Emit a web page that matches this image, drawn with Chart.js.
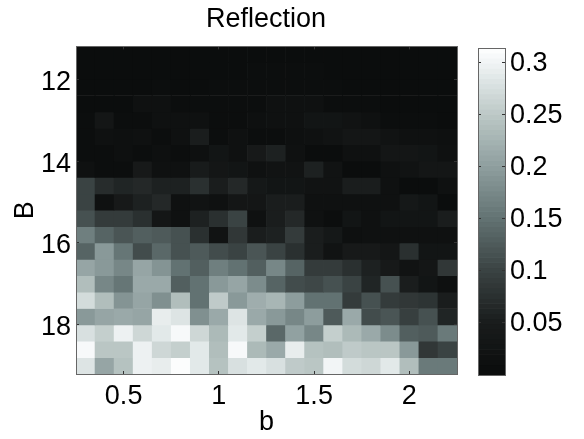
<!DOCTYPE html>
<html lang="en">

<head>
    <meta charset="UTF-8">
    <title>Reflection</title>
    <script src="https://cdn.jsdelivr.net/npm/chart.js"></script>
    <style>
        body { margin: 0; background: #fff; }
        canvas { position: absolute; top: 0; }
        #mapa { left: 0; }
        #barra { left: 460px; }
    </style>
</head>

<body>
    <canvas id="mapa" width="532" height="439"></canvas>
    <canvas id="barra" width="124" height="439"></canvas>
</body>

</html>

<script>

    const bValores = [0.3, 0.4, 0.5, 0.6, 0.7, 0.8, 0.9, 1.0, 1.1, 1.2, 1.3, 1.4, 1.5, 1.6, 1.7, 1.8, 1.9, 2.0, 2.1, 2.2];
    const BValores = [11.4, 11.8, 12.2, 12.6, 13.0, 13.4, 13.8, 14.2, 14.6, 15.0, 15.4, 15.8, 16.2, 16.6, 17.0, 17.4, 17.8, 18.2, 18.6, 19.0];

    const ticksB = [12, 14, 16, 18];
    const ticksb = [0.5, 1, 1.5, 2];
    const ticksCor = [0.05, 0.1, 0.15, 0.2, 0.25, 0.3];

    // uma linha por valor de B, de cima pra baixo
    const reflexao = [
        [.002, .002, .003, .002, .002, .002, .003, .003, .002, .003, .003, .003, .003, .002, .002, .002, .002, .002, .002, .002],
        [.001, .001, .003, .001, .001, .001, .001, .001, .003, .006, .006, .006, .006, .003, .003, .003, .001, .001, .001, .001],
        [.001, .001, .001, .003, .006, .003, .003, .006, .006, .009, .006, .006, .006, .006, .003, .003, .003, .001, .001, .001],
        [.003, .001, .001, .016, .016, .006, .006, .006, .006, .009, .016, .016, .016, .009, .009, .009, .003, .003, .003, .003],
        [.006, .034, .006, .009, .016, .019, .016, .006, .006, .013, .019, .019, .028, .028, .022, .019, .009, .006, .006, .003],
        [.009, .016, .013, .019, .006, .016, .050, .006, .016, .009, .006, .013, .016, .022, .031, .034, .022, .019, .016, .013],
        [.006, .009, .013, .006, .013, .006, .013, .025, .016, .044, .055, .016, .001, .001, .016, .019, .031, .031, .025, .019],
        [.016, .009, .009, .044, .019, .019, .047, .034, .028, .019, .022, .022, .054, .022, .001, .001, .019, .022, .031, .031],
        [.102, .070, .063, .066, .057, .055, .074, .050, .068, .038, .028, .028, .022, .022, .052, .052, .019, .003, .003, .019],
        [.102, .016, .044, .055, .067, .019, .022, .019, .031, .034, .051, .051, .019, .016, .019, .019, .019, .038, .025, .003],
        [.115, .090, .090, .076, .031, .016, .054, .075, .100, .019, .052, .068, .016, .006, .028, .019, .025, .025, .028, .052],
        [.166, .135, .120, .130, .124, .114, .075, .022, .086, .050, .055, .090, .051, .038, .013, .019, .016, .019, .019, .016],
        [.134, .195, .156, .111, .142, .114, .125, .112, .101, .120, .101, .076, .051, .022, .044, .044, .031, .078, .025, .028],
        [.207, .192, .175, .207, .190, .148, .129, .166, .148, .129, .172, .134, .091, .091, .075, .055, .044, .022, .031, .088],
        [.237, .175, .156, .212, .212, .128, .149, .193, .207, .177, .135, .112, .105, .114, .103, .063, .114, .051, .025, .013],
        [.272, .239, .191, .208, .184, .239, .151, .253, .195, .220, .226, .201, .148, .152, .090, .114, .092, .084, .080, .051],
        [.195, .208, .212, .208, .293, .281, .184, .214, .281, .214, .195, .175, .201, .127, .214, .111, .120, .094, .114, .059],
        [.277, .258, .298, .268, .289, .308, .265, .231, .285, .260, .138, .202, .175, .260, .233, .211, .179, .128, .125, .157],
        [.309, .246, .250, .299, .268, .259, .289, .239, .309, .231, .211, .292, .242, .239, .253, .250, .246, .195, .084, .101],
        [.280, .207, .242, .298, .292, .314, .286, .242, .275, .286, .278, .255, .246, .301, .273, .265, .289, .237, .157, .157]
    ];

    const corMax = 0.314;
    const niveis = 64;

    const paleta = [
        [0, 10, 12, 12],
        [0.05, 25, 28, 28],
        [0.1, 58, 66, 66],
        [0.15, 98, 114, 114],
        [0.2, 142, 158, 158],
        [0.25, 188, 200, 198],
        [0.3, 240, 244, 245],
        [0.314, 255, 255, 255]
    ];

    const corEixo = '#666';
    const corTick = '#333';
    const fonte = { family: '"Liberation Sans", Arial, sans-serif', size: 27 };

    function corDoValor(v) {
        // a barra tem 64 degraus, igual ao colormap original
        const n = Math.min(niveis - 1, Math.floor(v / corMax * niveis));
        const q = (n + 0.5) / niveis * corMax;
        let i = 0;
        while (i < paleta.length - 2 && q > paleta[i + 1][0]) i++;
        const a = paleta[i], b = paleta[i + 1];
        const t = (q - a[0]) / (b[0] - a[0]);
        const c = [1, 2, 3].map(k => Math.round(a[k] + (b[k] - a[k]) * t));
        return `rgb(${c[0]},${c[1]},${c[2]})`;
    }

    // eixo com ticks pra dentro, desenhado por cima das barras
    function eixo(position, min, max, ticks, extra) {
        const base = {
            type: 'linear',
            position: position,
            min: min,
            max: max,
            offset: false,
            afterBuildTicks: (s) => { s.ticks = ticks.map(v => ({ value: v })); },
            border: { color: corEixo, width: 1, z: 2 },
            grid: { offset: false, drawOnChartArea: false, tickLength: -3, tickColor: corTick, z: 2 },
            ticks: { display: false }
        };
        return Object.assign(base, extra);
    }

    function rotulos(padding, deslocamento) {
        return {
            display: true,
            color: '#000',
            font: fonte,
            padding: padding,
            labelOffset: deslocamento,
            autoSkip: false,
            maxRotation: 0,
            callback: v => String(v)
        };
    }

    const linhas = BValores.map((B, i) => ({
        data: bValores.map(b => ({ x: b, y: [B - 0.2, B + 0.2] })),
        backgroundColor: reflexao[i].map(corDoValor),
        grouped: false,
        barPercentage: 1,
        categoryPercentage: 1
    }));

    new Chart(document.getElementById('mapa'), {
        type: 'bar',
        data: { datasets: linhas },
        options: {
            responsive: false,
            animation: false,
            plugins: {
                legend: { display: false },
                tooltip: { enabled: false },
                title: {
                    display: true,
                    text: 'Reflection',
                    color: '#000',
                    font: { family: fonte.family, size: 27, weight: 'normal' },
                    padding: { top: 3, bottom: 11 }
                }
            },
            scales: {
                x: eixo('bottom', 0.25, 2.25, ticksb, {
                    ticks: rotulos(9, 0),
                    title: { display: true, text: 'b', color: '#000', font: fonte, padding: { top: 0, bottom: 0 } },
                    afterFit: (s) => { s.height = 65; }
                }),
                xTopo: eixo('top', 0.25, 2.25, ticksb, { afterFit: (s) => { s.height = 0; } }),
                y: eixo('left', 11.2, 19.2, ticksB, {
                    reverse: true,
                    ticks: rotulos(8, 3),
                    title: { display: true, text: 'B', color: '#000', font: fonte, padding: { top: 9, bottom: 0 } },
                    afterFit: (s) => { s.width = 76; }
                }),
                yDir: eixo('right', 11.2, 19.2, ticksB, { reverse: true, afterFit: (s) => { s.width = 75; } })
            }
        }
    });

    // barra de cores
    const degraus = [];
    for (let i = 0; i < niveis; i++) degraus.push((i + 0.5) / niveis * corMax);

    new Chart(document.getElementById('barra'), {
        type: 'bar',
        data: {
            datasets: [{
                data: degraus.map(v => ({ x: 1, y: v })),
                backgroundColor: degraus.map(corDoValor),
                barPercentage: 1,
                categoryPercentage: 1
            }]
        },
        options: {
            indexAxis: 'y',
            responsive: false,
            animation: false,
            layout: { padding: { top: 48, bottom: 64, left: 18, right: 0 } },
            plugins: { legend: { display: false }, tooltip: { enabled: false } },
            scales: {
                x: eixo('bottom', 0, 1, [], { afterFit: (s) => { s.height = 0; } }),
                xTopo: eixo('top', 0, 1, [], { afterFit: (s) => { s.height = 0; } }),
                y: eixo('right', 0, corMax, ticksCor, {
                    ticks: rotulos(8, 1),
                    afterFit: (s) => { s.width = 79; }
                }),
                yEsq: eixo('left', 0, corMax, ticksCor, { afterFit: (s) => { s.width = 0; } })
            }
        }
    });

</script>
